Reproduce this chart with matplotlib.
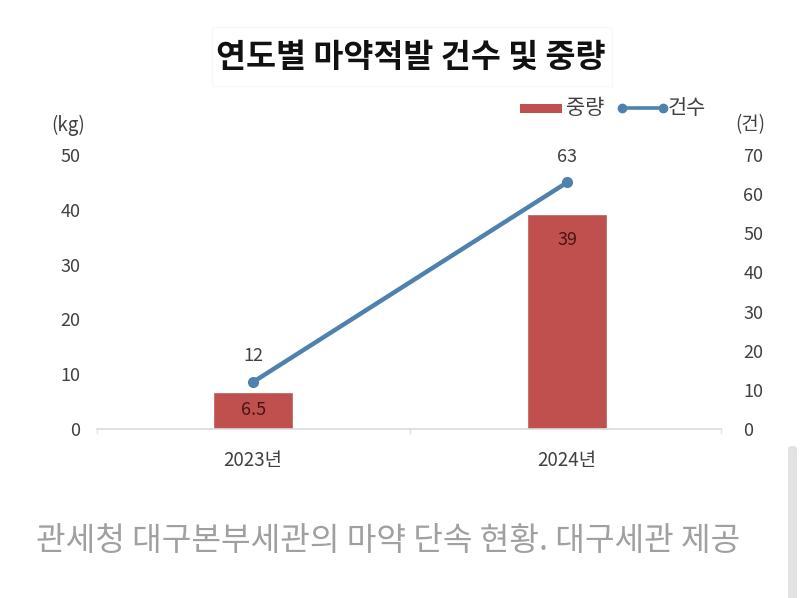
import numpy as np
from matplotlib import pyplot as plt
from matplotlib.patches import Rectangle, FancyBboxPatch

plt.rcParams['font.family'] = ['Noto Sans CJK KR', 'DejaVu Sans']

years = ['2023년', '2024년']
weight = [6.5, 39]
cases = [12, 63]
left_ticks = [0, 10, 20, 30, 40, 50]
right_ticks = [0, 10, 20, 30, 40, 50, 60, 70]

W, H = 800, 598
fig = plt.figure(figsize=(W / 100, H / 100), dpi=100)
ax = fig.add_axes([97 / W, 1 - 429 / H, 624 / W, 274 / H])
ax2 = ax.twinx()

x = np.arange(len(years))
ax.bar(x, weight, width=0.25, color='#c0504d', edgecolor='#b5615f', linewidth=0.5, label='중량')
ax2.plot(x, cases, color='#4f81ae', lw=3.2, marker='o', ms=7, label='건수')

ax.set_xlim(-0.497, 1.49)
ax.set_ylim(0, 50)
ax2.set_ylim(0, 70)
ax.set_xticks(x)
ax.set_xticklabels(years, fontsize=13.5, color='#404040')
ax.set_yticks(left_ticks)
ax2.set_yticks(right_ticks)
ax.tick_params(axis='x', length=0, pad=15)
ax.tick_params(axis='y', length=0, pad=12, labelsize=13, labelcolor='#404040')
ax2.tick_params(axis='y', length=0, pad=16, labelsize=13, labelcolor='#404040')
for a in (ax, ax2):
    for s in ['top', 'left', 'right', 'bottom']:
        a.spines[s].set_visible(False)
ax.spines['bottom'].set_visible(True)
ax.spines['bottom'].set_color('#dcdcdc')
ax.spines['bottom'].set_linewidth(1.2)

# small ticks on the category axis
for xt in [-0.497, 0.5, 1.49]:
    ax.plot([xt, xt], [0, -0.8], color='#e4e4e4', lw=1, clip_on=False)

# data labels
ax.text(x[0], 3.5, '6.5', ha='center', va='center', fontsize=13, color='#4a1412')
ax.text(x[1], 34.5, '39', ha='center', va='center', fontsize=13, color='#4a1412')
for i, c in enumerate(cases):
    ax2.annotate(str(c), (x[i], c), xytext=(0, 18.5), textcoords='offset points',
                 ha='center', va='center', fontsize=13, color='#404040')

# units
fig.text(68 / W, 1 - 125 / H, '(kg)', ha='center', va='center', fontsize=13.5, color='#404040')
fig.text(750 / W, 1 - 125 / H, '(건)', ha='center', va='center', fontsize=13.5, color='#404040')

# title box
fig.add_artist(Rectangle((212 / W, 1 - 86 / H), 400 / W, 59 / H, transform=fig.transFigure,
                         facecolor='white', edgecolor='#f8f8f8', lw=1))
fig.text(411 / W, 1 - 57 / H, '연도별 마약적발 건수 및 중량', ha='center', va='center',
         fontsize=23.5, fontweight='bold', color='#111111')

# legend
fig.add_artist(Rectangle((520 / W, 1 - 113 / H), 42 / W, 9 / H, transform=fig.transFigure,
                         facecolor='#c0504d', edgecolor='none'))
fig.text(585 / W, 1 - 108 / H, '중량', ha='center', va='center', fontsize=15, color='#404040')
fig.add_artist(plt.Line2D([622 / W, 663 / W], [1 - 108 / H, 1 - 108 / H], transform=fig.transFigure,
                          color='#4f81ae', lw=2.6, marker='o', ms=6))
fig.text(687 / W, 1 - 108 / H, '건수', ha='center', va='center', fontsize=15, color='#404040')

# caption
fig.text(388 / W, 1 - 541 / H, '관세청 대구본부세관의 마약 단속 현황. 대구세관 제공', ha='center', va='center',
         fontsize=23.2, color='#a0a0a0')

# scrollbar on the right
fig.add_artist(FancyBboxPatch((788 / W, -0.02), 9 / W, (H - 446) / H + 0.02, transform=fig.transFigure,
                              boxstyle='round,pad=0,rounding_size=0.005', mutation_aspect=1,
                              facecolor='#e2e2e2', edgecolor='none'))

plt.savefig('out.png', dpi=100)
